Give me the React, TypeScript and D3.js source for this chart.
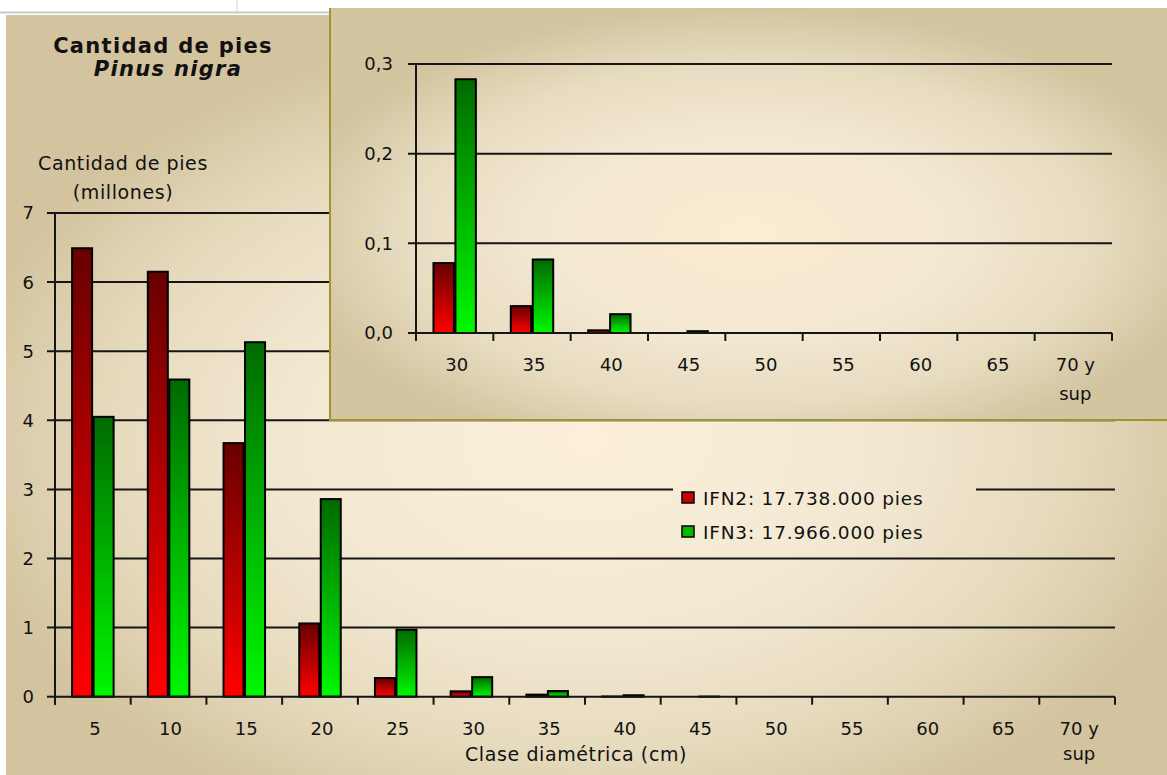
import React from 'react';
import * as d3 from 'd3';

// ---- Data (millones de pies) ----
const categories = ['5', '10', '15', '20', '25', '30', '35', '40', '45', '50', '55', '60', '65', '70 y\nsup'];
const seriesNames = ['IFN2', 'IFN3'];
const ifn2 = [6.49, 6.15, 3.67, 1.06, 0.27, 0.078, 0.03, 0.003, 0, 0, 0, 0, 0, 0];
const ifn3 = [4.05, 4.59, 5.13, 2.86, 0.97, 0.283, 0.082, 0.021, 0.002, 0, 0, 0, 0, 0];
const insetStart = 5; // inset shows classes from 30 cm upward
const mainYTicks = [0, 1, 2, 3, 4, 5, 6, 7];
const insetYTicks = [0, 0.1, 0.2, 0.3];
const legendLabels = ['IFN2: 17.738.000 pies', 'IFN3: 17.966.000 pies'];

const FONT = '"DejaVu Sans", Verdana, sans-serif';
const esLocale = d3.formatLocale({ decimal: ',', thousands: '.', grouping: [3], currency: ['', '€'] });
const fmtInset = esLocale.format('.1f');

type BarDatum = { cat: string; series: string; value: number };

function buildBars(cats: string[], a: number[], b: number[]): BarDatum[] {
  const out: BarDatum[] = [];
  cats.forEach((c, i) => {
    out.push({ cat: c, series: 'IFN2', value: a[i] });
    out.push({ cat: c, series: 'IFN3', value: b[i] });
  });
  return out;
}

function CatLabel({ x, y, text, dy }: { x: number; y: number; text: string; dy: number }) {
  const lines = text.split('\n');
  return (
    <text x={x} y={y} textAnchor="middle" fontFamily={FONT} fontSize={18} fill="#111">
      {lines.map((l, i) => (
        <tspan key={i} x={x} dy={i === 0 ? 0 : dy}>{l}</tspan>
      ))}
    </text>
  );
}

function BarChart({
  cats, a, b, x0Range, yDomain, yRange, yTicks, fmt, labelRight, labelBaseline, lineDy,
}: {
  cats: string[]; a: number[]; b: number[]; x0Range: [number, number]; yDomain: [number, number];
  yRange: [number, number]; yTicks: number[]; fmt: (v: number) => string; labelRight: number;
  labelBaseline: number; lineDy: number;
}) {
  const x0 = d3.scaleBand<string>().domain(cats).range(x0Range).paddingInner(0).paddingOuter(0);
  const x1 = d3.scaleBand<string>().domain(seriesNames).range([0, x0.bandwidth()])
    .paddingInner(0.07).paddingOuter(0.795);
  const y = d3.scaleLinear().domain(yDomain).range(yRange);
  const bars = buildBars(cats, a, b).filter((d) => d.value > 0);
  const left = x0Range[0];
  const right = x0Range[1];
  const y0 = y(0);
  const boundaries = cats.map((c) => x0(c) as number).concat([right]);
  return (
    <g>
      {/* gridlines + y ticks */}
      {yTicks.map((t) => (
        <line key={'g' + t} x1={left - 8} x2={t === 0 ? left : right} y1={y(t)} y2={y(t)} stroke="#151515" strokeWidth={2} />
      ))}
      {/* bars */}
      {bars.map((d, i) => {
        const bx = (x0(d.cat) as number) + (x1(d.series) as number);
        const top = y(d.value);
        return (
          <rect key={i} x={bx} y={top} width={x1.bandwidth()} height={Math.max(0, y0 - top)}
            fill={d.series === 'IFN2' ? 'url(#redGrad)' : 'url(#greenGrad)'} stroke="#000" strokeWidth={2} />
        );
      })}
      {/* axes */}
      <line x1={left} x2={left} y1={y(yDomain[1])} y2={y0 + 8} stroke="#151515" strokeWidth={2} />
      <line x1={left} x2={right} y1={y0} y2={y0} stroke="#151515" strokeWidth={2} />
      {boundaries.map((bx, i) => (
        <line key={'t' + i} x1={bx} x2={bx} y1={y0} y2={y0 + 8} stroke="#151515" strokeWidth={2} />
      ))}
      {/* y labels */}
      {yTicks.map((t) => (
        <text key={'yl' + t} x={labelRight} y={y(t)} dy="0.36em" textAnchor="end" fontFamily={FONT} fontSize={18} fill="#111">
          {fmt(t)}
        </text>
      ))}
      {/* x labels */}
      {cats.map((c) => (
        <CatLabel key={'xl' + c} x={(x0(c) as number) + x0.bandwidth() / 2 + 2} y={labelBaseline} text={c} dy={lineDy} />
      ))}
    </g>
  );
}

export default function App() {
  const W = 1167;
  const H = 775;
  const main = { x: 6, y: 15, w: W - 6, h: H - 15 };
  const inset = { x: 330, y: 8, w: W - 330, h: 420 - 8 };
  return (
    <svg width={W} height={H} style={{ position: 'absolute', left: 0, top: 0, display: 'block' }}>
      <defs>
        <radialGradient id="mainBg" gradientUnits="userSpaceOnUse" cx={0.5} cy={0.56} r={0.55}
          gradientTransform={`translate(${main.x},${main.y}) scale(${main.w},${main.h})`}>
          <stop offset="0" stopColor="#fbefda" />
          <stop offset="0.45" stopColor="#f3e9d3" />
          <stop offset="0.75" stopColor="#e6dabd" />
          <stop offset="1" stopColor="#d3c39e" />
        </radialGradient>
        <radialGradient id="insetBg" gradientUnits="userSpaceOnUse" cx={0.5} cy={0.55} r={0.55}
          gradientTransform={`translate(${inset.x},${inset.y}) scale(${inset.w},${inset.h})`}>
          <stop offset="0" stopColor="#fcecd2" />
          <stop offset="0.45" stopColor="#f3e8d1" />
          <stop offset="0.75" stopColor="#e7dcc0" />
          <stop offset="1" stopColor="#d4c5a1" />
        </radialGradient>
        <linearGradient id="redGrad" x1="0" y1="0" x2="0" y2="1">
          <stop offset="0" stopColor="#680000" />
          <stop offset="1" stopColor="#ff0000" />
        </linearGradient>
        <linearGradient id="greenGrad" x1="0" y1="0" x2="0" y2="1">
          <stop offset="0" stopColor="#006a00" />
          <stop offset="1" stopColor="#00f800" />
        </linearGradient>
      </defs>

      <rect x={0} y={0} width={W} height={H} fill="#ffffff" />
      <line x1={0} x2={330} y1={12.5} y2={12.5} stroke="#c9c9c9" strokeWidth={2} />
      <line x1={237} x2={237} y1={0} y2={13} stroke="#d0d0d0" strokeWidth={1} />

      {/* main panel */}
      <rect x={main.x} y={main.y} width={main.w} height={main.h} fill="url(#mainBg)" />

      {/* titles */}
      <text x={163} y={53} textAnchor="middle" fontFamily={FONT} fontWeight="bold" fontSize={21} letterSpacing={1.3} fill="#111">
        Cantidad de pies
      </text>
      <text x={168} y={76} textAnchor="middle" fontFamily={FONT} fontWeight="bold" fontStyle="italic" fontSize={21} letterSpacing={1.3} fill="#111">
        Pinus nigra
      </text>
      <text x={123} y={170} textAnchor="middle" fontFamily={FONT} fontSize={19} letterSpacing={0.6} fill="#111">
        Cantidad de pies
      </text>
      <text x={123} y={199} textAnchor="middle" fontFamily={FONT} fontSize={19} letterSpacing={0.6} fill="#111">
        (millones)
      </text>

      <BarChart cats={categories} a={ifn2} b={ifn3} x0Range={[55, 1115]} yDomain={[0, 7]} yRange={[696.7, 213]}
        yTicks={mainYTicks} fmt={(v) => String(v)} labelRight={34} labelBaseline={735} lineDy={25} />

      <text x={465} y={761} textAnchor="start" fontFamily={FONT} fontSize={19} letterSpacing={0.6} fill="#111">
        Clase diamétrica (cm)
      </text>

      {/* legend */}
      <rect x={673} y={480} width={303} height={66} fill="url(#mainBg)" />
      {legendLabels.map((l, i) => (
        <g key={l}>
          <rect x={682} y={492 + i * 34} width={12} height={11} fill={i === 0 ? '#c80000' : '#00bb00'} stroke="#000" strokeWidth={1.5} />
          <text x={703} y={505 + i * 33.5} fontFamily={FONT} fontSize={18.5} letterSpacing={0.8} fill="#111">{l}</text>
        </g>
      ))}

      {/* inset */}
      <rect x={inset.x} y={inset.y} width={inset.w} height={inset.h} fill="url(#insetBg)" />
      <line x1={330} x2={330} y1={inset.y} y2={421} stroke="#9c9530" strokeWidth={2} />
      <line x1={330} x2={W} y1={420} y2={420} stroke="#9c9530" strokeWidth={2} />

      <BarChart cats={categories.slice(insetStart)} a={ifn2.slice(insetStart)} b={ifn3.slice(insetStart)}
        x0Range={[416, 1112]} yDomain={[0, 0.3]} yRange={[333, 64]} yTicks={insetYTicks}
        fmt={(v) => fmtInset(v)} labelRight={393} labelBaseline={371} lineDy={29} />
    </svg>
  );
}
